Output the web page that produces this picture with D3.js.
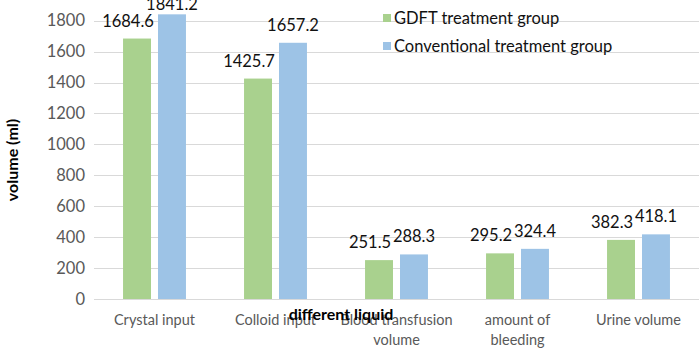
<!DOCTYPE html>
<html>
<head>
<meta charset="utf-8">
<script src="https://cdn.jsdelivr.net/npm/d3@7"></script>
<style>
  body { margin: 0; background: #fff; }
  text { font-family: Lato, "Open Sans", sans-serif; }
</style>
</head>
<body>
<div id="container"></div>
<script>
const categories = ["Crystal input", "Colloid input", "Blood transfusion volume", "amount of bleeding", "Urine volume"];
const seriesNames = ["GDFT treatment group", "Conventional treatment group"];
const gdftValues = [1684.6, 1425.7, 251.5, 295.2, 382.3];
const conventionalValues = [1841.2, 1657.2, 288.3, 324.4, 418.1];
const yTicks = [0, 200, 400, 600, 800, 1000, 1200, 1400, 1600, 1800];
const colors = ["#a9d18e", "#9dc3e6"];

const w = 699;
const h = 348;
const margin = { left: 94, right: 0, top: 20.7, bottom: 49 };

const svg = d3.select("#container")
  .append("svg")
  .attr("width", w)
  .attr("height", h);

const x0 = d3.scaleBand()
  .domain(categories)
  .range([margin.left, w - margin.right])
  .paddingInner(0.48)
  .paddingOuter(0.24);

const x1 = d3.scaleBand()
  .domain(seriesNames)
  .range([0, x0.bandwidth()])
  .paddingInner(0.2);

const yScale = d3.scaleLinear()
  .domain([0, 1800])
  .range([h - margin.bottom, margin.top]);

// gridlines
svg.append("g")
  .selectAll("line")
  .data(yTicks)
  .enter()
  .append("line")
  .attr("x1", margin.left)
  .attr("x2", w)
  .attr("y1", (d) => Math.round(yScale(d)) + 0.5)
  .attr("y2", (d) => Math.round(yScale(d)) + 0.5)
  .attr("stroke", "#d9d9d9")
  .attr("stroke-width", 1.2);

// y axis labels
const yAxis = d3.axisLeft(yScale).tickValues(yTicks).tickFormat(d3.format("d")).tickSize(0).tickPadding(8);
svg.append("g")
  .attr("transform", "translate(" + (margin.left - 1) + ",0)")
  .call(yAxis)
  .call((g) => g.select(".domain").remove())
  .selectAll("text")
  .attr("font-size", 16.5)
  .attr("fill", "#595959")
  .style("font-family", "Lato, sans-serif");

const table = categories.map((c, i) => ({ cat: c, vals: [gdftValues[i], conventionalValues[i]] }));

const groups = svg.append("g")
  .selectAll("g")
  .data(table)
  .enter()
  .append("g")
  .attr("transform", (d) => "translate(" + x0(d.cat) + ",0)");

groups.selectAll("rect")
  .data((d) => d.vals.map((v, j) => ({ s: seriesNames[j], v: v, j: j })))
  .enter()
  .append("rect")
  .attr("x", (d) => x1(d.s))
  .attr("y", (d) => yScale(d.v))
  .attr("width", x1.bandwidth())
  .attr("height", (d) => yScale(0) - yScale(d.v))
  .attr("fill", (d) => colors[d.j]);

// data labels (green ones sit a bit to the left, like the original); kept inside the top edge
groups.selectAll("text.lbl")
  .data((d) => d.vals.map((v, j) => ({ s: seriesNames[j], v: v, j: j })))
  .enter()
  .append("text")
  .attr("class", "lbl")
  .attr("x", (d) => x1(d.s) + x1.bandwidth() / 2 + (d.j === 0 ? -9 : 0))
  .attr("y", (d) => Math.max(10, yScale(d.v) - 12))
  .attr("text-anchor", "middle")
  .attr("font-size", 16.5)
  .attr("fill", "#111")
  .text((d) => d.v.toFixed(1));

// category labels with wrapping
const xAxis = d3.axisBottom(x0).tickSize(0).tickPadding(0);
const xg = svg.append("g")
  .attr("transform", "translate(0," + yScale(0) + ")")
  .call(xAxis);
xg.select(".domain").remove();
xg.selectAll("text")
  .attr("font-size", 14.5)
  .attr("fill", "#595959")
  .attr("dy", null)
  .style("font-family", "Lato, sans-serif")
  .each(function (d) {
    const t = d3.select(this);
    const words = d.split(" ");
    t.text(null);
    let line = [];
    let lineNo = 0;
    let tspan = t.append("tspan").attr("x", 0).attr("y", 26);
    words.forEach((wd) => {
      line.push(wd);
      tspan.text(line.join(" "));
      if (tspan.node().getComputedTextLength() > x0.step() && line.length > 1) {
        line.pop();
        tspan.text(line.join(" "));
        line = [wd];
        lineNo++;
        tspan = t.append("tspan").attr("x", 0).attr("y", 26 + lineNo * 20).text(wd);
      }
    });
  });

// axis titles
svg.append("text")
  .attr("x", 341)
  .attr("y", 320)
  .attr("text-anchor", "middle")
  .attr("font-size", 16)
  .attr("font-weight", "bold")
  .attr("fill", "#000")
  .text("different liquid");

svg.append("text")
  .attr("transform", "translate(18,160) rotate(-90)")
  .attr("text-anchor", "middle")
  .attr("font-size", 16)
  .attr("font-weight", "bold")
  .attr("fill", "#000")
  .text("volume (ml)");

// legend
const legend = svg.append("g")
  .selectAll("g")
  .data(seriesNames)
  .enter()
  .append("g")
  .attr("transform", (d, i) => "translate(383," + (14 + i * 28) + ")");

legend.append("rect")
  .attr("width", 8)
  .attr("height", 8)
  .attr("fill", (d, i) => colors[i]);

legend.append("text")
  .attr("x", 11)
  .attr("y", 9.5)
  .attr("font-size", 16.5)
  .attr("fill", "#111")
  .text((d) => d);
</script>
</body>
</html>
